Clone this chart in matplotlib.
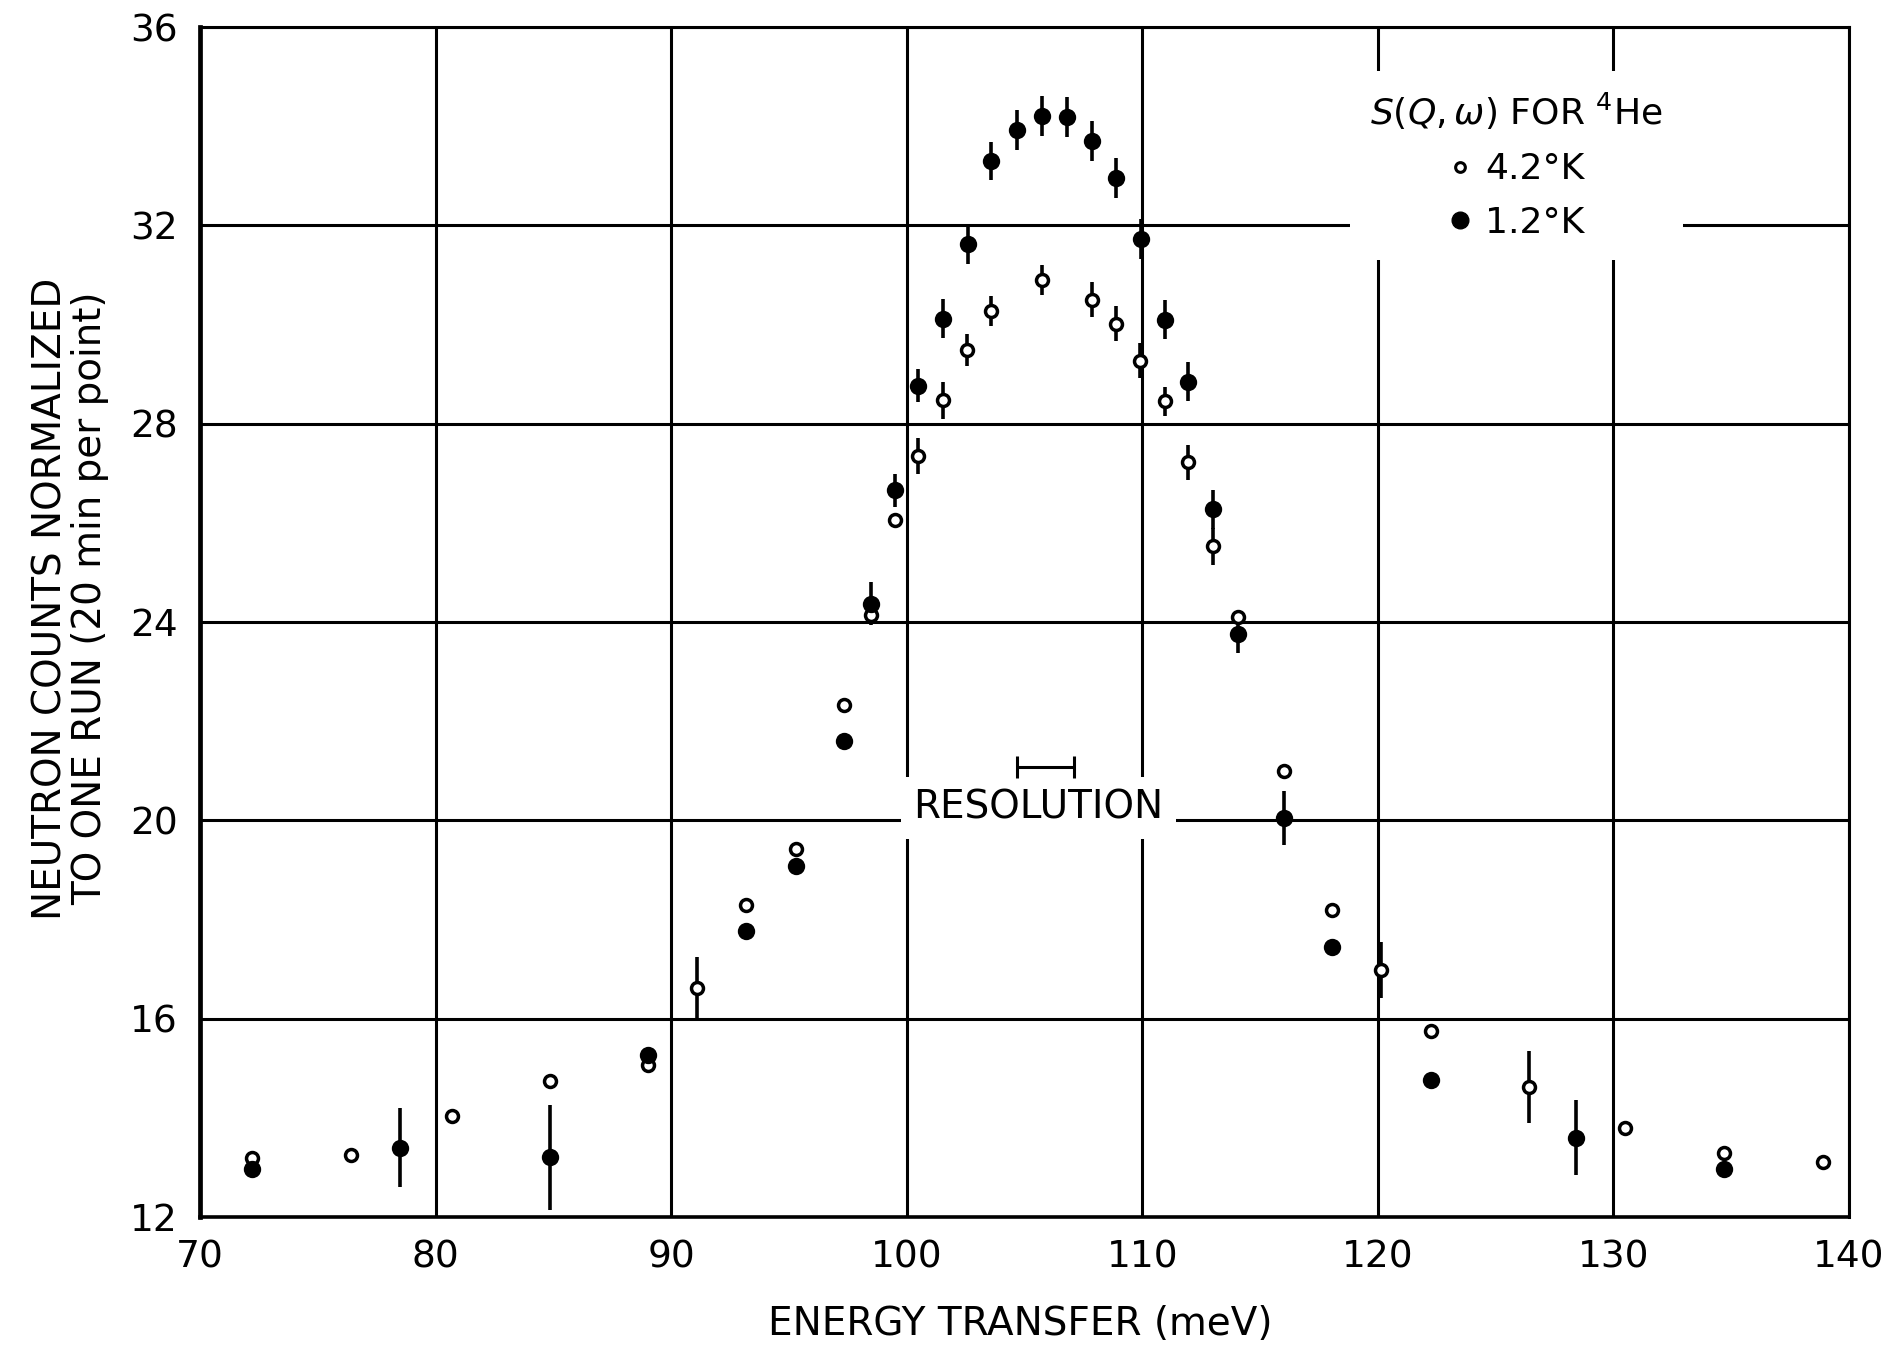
import matplotlib
matplotlib.use("Agg")
import matplotlib.pyplot as plt
from matplotlib.lines import Line2D

# 4.2 K (open circles)
e_42 = [72.2, 76.4, 80.7, 84.85, 89.0, 91.1, 93.2, 95.3, 97.35, 98.5, 99.5,
        100.5, 101.55, 102.55, 103.6, 105.75, 107.85, 108.9, 109.9, 110.95,
        111.95, 113.0, 114.05, 116.0, 118.05, 120.15, 122.25, 126.4, 130.5,
        134.7, 138.9]
n_42 = [13.18, 13.24, 14.03, 14.74, 15.06, 16.62, 18.3, 19.43, 22.32, 24.15,
        26.06, 27.35, 28.47, 29.48, 30.27, 30.9, 30.5, 30.02, 29.27, 28.45,
        27.22, 25.53, 24.11, 21.0, 18.2, 16.98, 15.75, 14.62, 13.8, 13.3, 13.1]
err_42 = [0, 0, 0, 0, 0, 0.62, 0, 0, 0, 0, 0, 0.36, 0.38, 0.32, 0.3, 0.3,
          0.35, 0.35, 0.35, 0.3, 0.35, 0.37, 0, 0, 0, 0.57, 0, 0.72, 0, 0, 0]

# 1.2 K (filled circles)
e_12 = [72.2, 78.5, 84.85, 89.0, 93.2, 95.3, 97.35, 98.5, 99.5, 100.5,
        101.55, 102.6, 103.6, 104.7, 105.75, 106.8, 107.85, 108.9, 109.95,
        110.95, 111.95, 113.0, 114.05, 116.0, 118.05, 122.25, 128.4, 134.7]
n_12 = [12.97, 13.4, 13.2, 15.26, 17.76, 19.08, 21.61, 24.37, 26.66, 28.77,
        30.12, 31.62, 33.3, 33.93, 34.21, 34.19, 33.7, 32.95, 31.73, 30.1,
        28.85, 26.27, 23.75, 20.05, 17.45, 14.76, 13.6, 12.97]
err_12 = [0, 0.8, 1.05, 0, 0, 0, 0, 0.43, 0.33, 0.33, 0.4, 0.4, 0.39, 0.4,
          0.4, 0.4, 0.4, 0.4, 0.4, 0.4, 0.4, 0.4, 0.38, 0.55, 0, 0, 0.75, 0]

# instrumental resolution bar
res_center = 105.9
res_half = 1.2
res_level = 21.07

x_ticks = [70, 80, 90, 100, 110, 120, 130, 140]
y_ticks = [12, 16, 20, 24, 28, 32, 36]

plt.rcParams["font.family"] = "DejaVu Sans"

fig = plt.figure(figsize=(18.97, 13.54), dpi=100)
ax = fig.add_axes([0.1054, 0.1012, 0.8693, 0.8788])

ax.set_xlim(70, 140)
ax.set_ylim(12, 36)
ax.set_xticks(x_ticks)
ax.set_yticks(y_ticks)
ax.tick_params(length=0, labelsize=27, pad=16)
ax.grid(True, color="black", lw=2.2, zorder=0)
ax.set_axisbelow(True)
for side, sp in ax.spines.items():
    sp.set_linewidth(2.2)
ax.spines["left"].set_linewidth(3.4)
ax.spines["bottom"].set_linewidth(2.6)

# error bars
ax.errorbar(e_42, n_42, yerr=err_42, fmt="none", ecolor="black",
            elinewidth=2.6, zorder=3)
ax.errorbar(e_12, n_12, yerr=err_12, fmt="none", ecolor="black",
            elinewidth=2.6, zorder=3)

# points
ax.plot(e_42, n_42, "o", ms=8.6, mfc="white", mec="black", mew=2.5,
        ls="none", zorder=4)
ax.plot(e_12, n_12, "o", ms=12.5, mfc="black", mec="black", mew=0,
        ls="none", zorder=5)

# resolution
ax.errorbar(res_center, res_level, xerr=res_half, fmt="none", ecolor="black",
            elinewidth=2.2, capsize=8, capthick=2.2, zorder=3)
ax.text(105.6, 20.25, "RESOLUTION", ha="center", va="center", fontsize=28,
        bbox=dict(fc="white", ec="none", pad=9), zorder=2)

# legend
h42 = Line2D([], [], marker="o", ls="none", ms=7, mfc="white", mec="black",
             mew=2.2)
h12 = Line2D([], [], marker="o", ls="none", ms=12, mfc="black", mec="black")
leg = ax.legend([h42, h12], ["4.2\u00b0K", "1.2\u00b0K"],
                title=r"$S(Q,\omega)$ FOR $^{4}$He",
                loc="upper right", bbox_to_anchor=(0.91, 0.978),
                fontsize=26, title_fontsize=26, frameon=True,
                facecolor="white", edgecolor="none", framealpha=1,
                handlelength=0.6, handletextpad=0.4, labelspacing=0.55,
                borderpad=0.55, fancybox=False)
leg.set_zorder(6)

fig.text(0.538, 0.008, "ENERGY TRANSFER (meV)", ha="center", va="bottom",
         fontsize=28)
fig.text(0.037, 0.558, "NEUTRON COUNTS NORMALIZED\nTO ONE RUN (20 min per point)",
         rotation=90, ha="center", va="center", fontsize=28,
         multialignment="center", linespacing=1.05)

fig.savefig("out.png", dpi=100, facecolor="white")
